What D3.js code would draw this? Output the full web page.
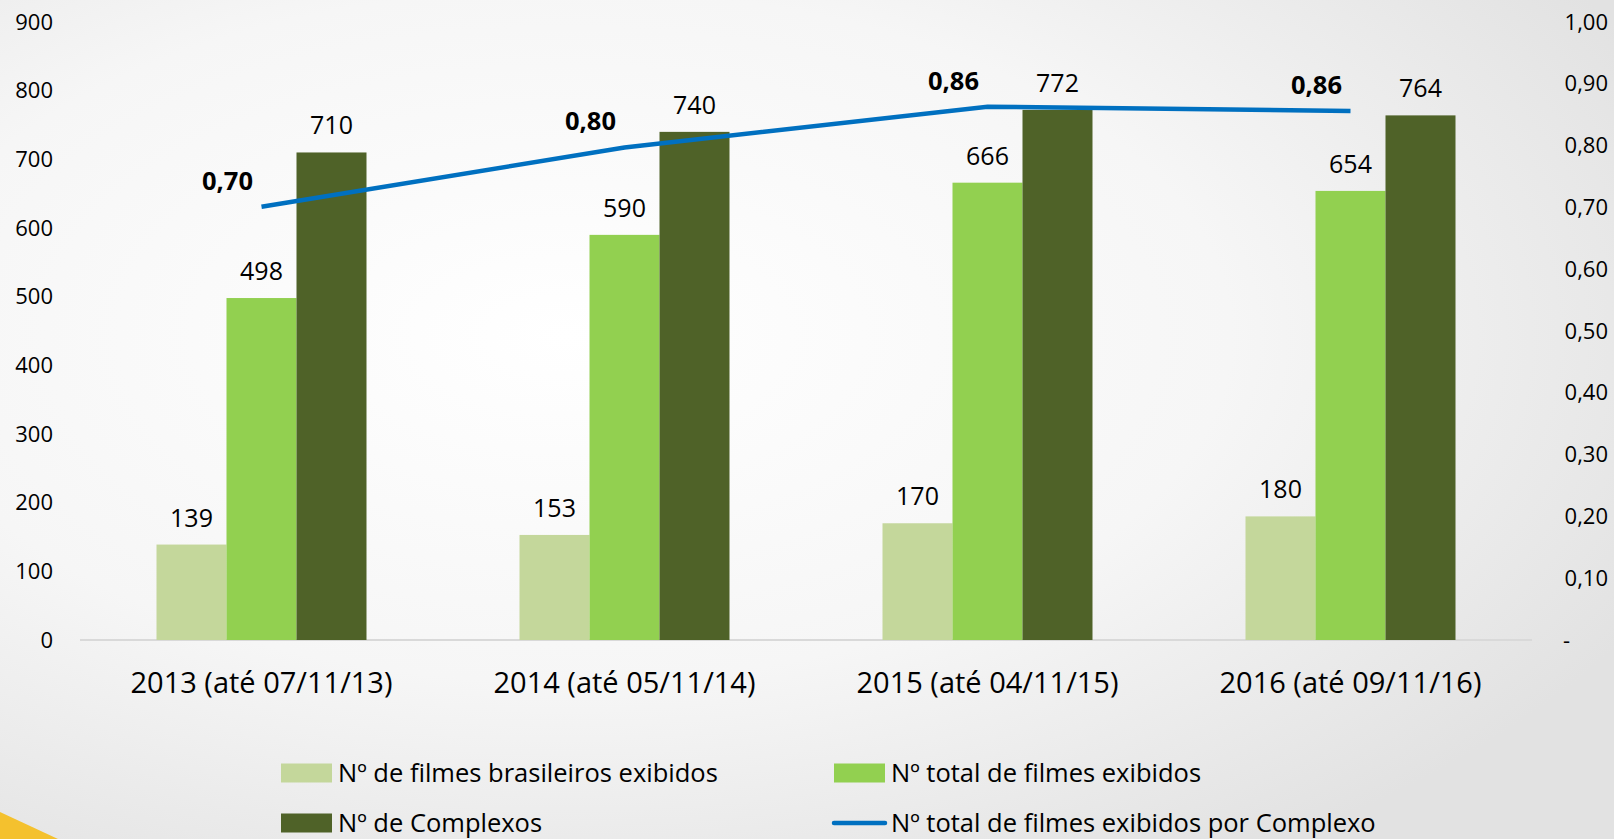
<!DOCTYPE html>
<html>
<head>
<meta charset="utf-8">
<script src="https://cdn.jsdelivr.net/npm/d3@7"></script>
<style>
  html, body { margin: 0; padding: 0; overflow: hidden; }
  body { width: 1614px; height: 839px; }
  text { font-family: "Open Sans", sans-serif; fill: #000; }
</style>
</head>
<body>
<div id="chart"></div>
<script>
const width = 1614;
const height = 839;

// data
const categories = [
  "2013 (até 07/11/13)",
  "2014 (até 05/11/14)",
  "2015 (até 04/11/15)",
  "2016 (até 09/11/16)"
];
const seriesNames = [
  "Nº de filmes brasileiros exibidos",
  "Nº total de filmes exibidos",
  "Nº de Complexos"
];
const lineName = "Nº total de filmes exibidos por Complexo";
const brasileiros = [139, 153, 170, 180];
const totalFilmes = [498, 590, 666, 654];
const complexos = [710, 740, 772, 764];
const filmesPorComplexo = [0.701, 0.797, 0.863, 0.856];
const lineLabels = ["0,70", "0,80", "0,86", "0,86"];
const leftTicks = [0, 100, 200, 300, 400, 500, 600, 700, 800, 900];
const rightTicks = [0, 0.1, 0.2, 0.3, 0.4, 0.5, 0.6, 0.7, 0.8, 0.9, 1.0];

const barColors = ["#C4D79B", "#92D050", "#4F6228"];
const lineColor = "#0070C0";

const svg = d3.select("#chart")
  .append("svg")
  .attr("width", width)
  .attr("height", height);

// slide background
const defs = svg.append("defs");
const grad = defs.append("radialGradient")
  .attr("id", "bg")
  .attr("cx", "35%").attr("cy", "40%").attr("r", "75%");
grad.append("stop").attr("offset", "0%").attr("stop-color", "#ffffff");
grad.append("stop").attr("offset", "55%").attr("stop-color", "#f6f6f6");
grad.append("stop").attr("offset", "100%").attr("stop-color", "#e2e2e2");

svg.append("rect")
  .attr("width", width)
  .attr("height", height)
  .attr("fill", "url(#bg)");

// yellow corner of the slide template
svg.append("path")
  .attr("d", "M0,812 L58,839 L0,839 Z")
  .attr("fill", "#F4C12E");

const x0 = d3.scaleBand()
  .domain(categories)
  .range([80, 1532])
  .paddingInner(0.4215)
  .paddingOuter(0.21075);

const x1 = d3.scaleBand()
  .domain(seriesNames)
  .range([0, x0.bandwidth()]);

const yLeft = d3.scaleLinear().domain([0, 900]).range([640, 22]);
const yRight = d3.scaleLinear().domain([0, 1]).range([640, 22]);

// axes
const leftAxis = svg.append("g")
  .attr("transform", "translate(80,0)")
  .call(d3.axisLeft(yLeft).tickValues(leftTicks).tickSize(0).tickPadding(27));
leftAxis.select(".domain").remove();
leftAxis.selectAll("text")
  .style("font-family", "Open Sans")
  .style("font-size", "22px")
  .attr("fill", "#000");

const fmtRight = d3.format(".2f");
const rightAxis = svg.append("g")
  .attr("transform", "translate(1608,0)")
  .call(d3.axisLeft(yRight).tickValues(rightTicks).tickSize(0).tickPadding(0)
    .tickFormat(d => d === 0 ? "-" : fmtRight(d).replace(".", ",")));
rightAxis.select(".domain").remove();
rightAxis.selectAll("text")
  .style("font-family", "Open Sans")
  .style("font-size", "22px")
  .attr("fill", "#000");
rightAxis.selectAll(".tick").filter(d => d === 0).select("text").attr("x", -38);

// baseline
svg.append("line")
  .attr("x1", 80).attr("x2", 1532)
  .attr("y1", yLeft(0)).attr("y2", yLeft(0))
  .attr("stroke", "#d9d9d9")
  .attr("stroke-width", 2);

// category labels
svg.append("g")
  .selectAll("text")
  .data(categories)
  .enter()
  .append("text")
  .attr("x", d => x0(d) + x0.bandwidth() / 2)
  .attr("y", 693)
  .attr("text-anchor", "middle")
  .style("font-size", "29px")
  .text(d => d);

// bars
const seriesValues = [brasileiros, totalFilmes, complexos];
const groups = svg.append("g")
  .selectAll("g")
  .data(categories)
  .enter()
  .append("g")
  .attr("transform", d => "translate(" + x0(d) + ",0)");

groups.selectAll("rect")
  .data((d, i) => seriesNames.map((s, j) => ({ s: s, v: seriesValues[j][i], c: barColors[j] })))
  .enter()
  .append("rect")
  .attr("x", d => x1(d.s))
  .attr("width", x1.bandwidth())
  .attr("y", d => yLeft(d.v))
  .attr("height", d => yLeft(0) - yLeft(d.v))
  .attr("fill", d => d.c);

groups.selectAll("text.val")
  .data((d, i) => seriesNames.map((s, j) => ({ s: s, v: seriesValues[j][i] })))
  .enter()
  .append("text")
  .attr("class", "val")
  .attr("x", d => x1(d.s) + x1.bandwidth() / 2)
  .attr("y", d => yLeft(d.v) - 18)
  .attr("text-anchor", "middle")
  .style("font-size", "25px")
  .text(d => d.v);

// line
const line = d3.line()
  .x((d, i) => x0(categories[i]) + x0.bandwidth() / 2)
  .y(d => yRight(d));

svg.append("path")
  .datum(filmesPorComplexo)
  .attr("d", line)
  .attr("fill", "none")
  .attr("stroke", lineColor)
  .attr("stroke-width", 4.5);

svg.append("g")
  .selectAll("text")
  .data(filmesPorComplexo)
  .enter()
  .append("text")
  .attr("x", (d, i) => x0(categories[i]) + x0.bandwidth() / 2 - 34)
  .attr("y", d => yRight(d) - 17)
  .attr("text-anchor", "middle")
  .style("font-size", "25.5px")
  .style("font-weight", "bold")
  .text((d, i) => lineLabels[i]);

// legend
const legendItems = [
  { name: seriesNames[0], color: barColors[0], type: "rect", x: 281, y: 773 },
  { name: seriesNames[1], color: barColors[1], type: "rect", x: 834, y: 773 },
  { name: seriesNames[2], color: barColors[2], type: "rect", x: 281, y: 823 },
  { name: lineName, color: lineColor, type: "line", x: 834, y: 823 }
];

const legend = svg.append("g").attr("class", "legend");
legendItems.forEach(function (d) {
  if (d.type === "rect") {
    legend.append("rect")
      .attr("x", d.x).attr("y", d.y - 9.5)
      .attr("width", 51).attr("height", 19)
      .attr("fill", d.color);
  } else {
    legend.append("line")
      .attr("x1", d.x).attr("x2", d.x + 51)
      .attr("y1", d.y).attr("y2", d.y)
      .attr("stroke", d.color)
      .attr("stroke-width", 4.5)
      .attr("stroke-linecap", "round");
  }
  legend.append("text")
    .attr("x", d.x + 57)
    .attr("y", d.y + 9)
    .style("font-size", "25.5px")
    .text(d.name);
});
</script>
</body>
</html>
